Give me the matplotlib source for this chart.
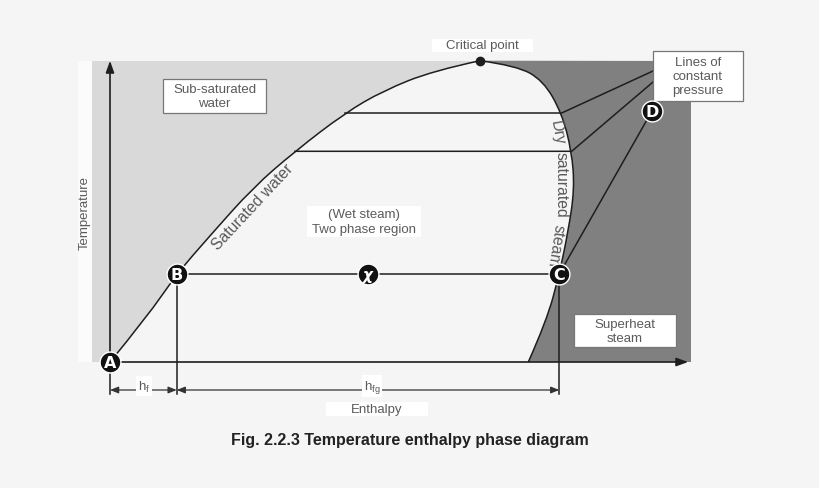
"""Temperature-enthalpy phase diagram (Fig. 2.2.3) redrawn with matplotlib."""

import matplotlib.pyplot as plt
from matplotlib.patches import PathPatch, Rectangle
from matplotlib.path import Path

plt.rcParams['font.family'] = ['Liberation Sans', 'DejaVu Sans']
plt.rcParams['mathtext.fontset'] = 'custom'
plt.rcParams['mathtext.rm'] = 'Liberation Sans'

# dome (x = enthalpy, y = temperature, picture units, y grows downward)
liquid_h = [110, 146.7, 176.7, 210, 253.3, 295, 345, 383.3, 433.3, 480]
liquid_t = [363, 318.3, 275, 236.7, 188.3, 152.3, 114, 91.7, 71.7, 61.7]
vapour_h = [480, 516.7, 543.3, 561.7, 571.7, 574.5, 568.3, 559.3, 546.7, 528.3]
vapour_t = [61.7, 66.7, 81.7, 114, 152.3, 190, 231.7, 275, 321.7, 363]

# plot frame
h_min, h_max = 110, 691
t_min, t_top = 363, 62
shade_left = 92

# constant pressure lines: start on liquid side, end on vapour side, then run to the label box
isobar_t = [114, 152.3]
isobar_h0 = [345, 295]
isobar_h1 = [561.7, 571.7]
isobar_end_t = [72, 83]
box_left = 653

# states
state_names = ['A', 'B', 'C', 'D']
state_h = [110, 176.7, 559.3, 652]
state_t = [363, 275, 275, 112]
chi_h, chi_t = 368, 275
crit_h, crit_t = 480, 61.7

dim_t = 391

BG = '#f5f5f5'
LIGHT = '#d9d9d9'
DARK = '#808080'
INK = '#1e1e1e'
TXT = '#5a5a5a'


def smooth(hs, ts):
    """Quadratic Bezier segments through the midpoints of the read points."""
    verts = [(hs[0], ts[0])]
    codes = [Path.MOVETO]
    pts = list(zip(hs, ts))
    for i in range(1, len(pts) - 1):
        mid = ((pts[i][0] + pts[i + 1][0]) / 2, (pts[i][1] + pts[i + 1][1]) / 2)
        if i == len(pts) - 2:
            mid = pts[-1]
        verts += [pts[i], mid]
        codes += [Path.CURVE3, Path.CURVE3]
    return verts, codes


fig = plt.figure(figsize=(8.2, 4.89), dpi=100, facecolor=BG)
ax = fig.add_axes([0, 0, 1, 1])
ax.set_xlim(0, 820)
ax.set_ylim(489, 0)
ax.axis('off')
ax.set_facecolor(BG)

lv, lc = smooth(liquid_h, liquid_t)
vv, vc = smooth(vapour_h, vapour_t)

# shaded regions
light = [(shade_left, t_top), (shade_left, t_min)] + lv + [(crit_h, t_top), (shade_left, t_top)]
light_codes = [Path.MOVETO, Path.LINETO, Path.LINETO] + lc[1:] + [Path.LINETO, Path.CLOSEPOLY]
ax.add_patch(PathPatch(Path(light, light_codes), facecolor=LIGHT, lw=0, zorder=1))
dark = vv + [(h_max, t_min), (h_max, t_top), vv[0]]
dark_codes = vc + [Path.LINETO, Path.LINETO, Path.CLOSEPOLY]
ax.add_patch(PathPatch(Path(dark, dark_codes), facecolor=DARK, lw=0, zorder=1))

# white strip behind the temperature label
ax.add_patch(Rectangle((78, t_top), 14, t_min - t_top, facecolor='#fbfbfb', lw=0, zorder=1))
ax.text(85, 213, 'Temperature', rotation=90, ha='center', va='center', fontsize=9.5,
        color=TXT, zorder=5)

# dome
ax.add_patch(PathPatch(Path(lv, lc), facecolor='none', edgecolor=INK, lw=1.1, zorder=3))
ax.add_patch(PathPatch(Path(vv, vc), facecolor='none', edgecolor=INK, lw=1.1, zorder=3))

# isobars
for t, h0, h1, te in zip(isobar_t, isobar_h0, isobar_h1, isobar_end_t):
    ax.plot([h0, h1, box_left], [t, t, te], color=INK, lw=1.1, zorder=3)
ax.plot([state_h[1], state_h[2], state_h[3]], [state_t[1], state_t[2], state_t[3]],
        color=INK, lw=1.1, zorder=3)

# verticals from B and C down to the dimension line
for h, t in zip(state_h[1:3], state_t[1:3]):
    ax.plot([h, h], [t, dim_t + 4], color=INK, lw=1.1, zorder=3)
ax.plot([state_h[0], state_h[0]], [375, dim_t + 4], color=INK, lw=1.1, zorder=3)

# axes with arrows
ax.annotate('', xy=(h_min, t_top - 3), xytext=(h_min, t_min),
            arrowprops=dict(arrowstyle='-|>,head_length=0.7,head_width=0.25', color=INK, lw=1.2),
            zorder=4)
ax.annotate('', xy=(h_max, t_min), xytext=(h_min, t_min),
            arrowprops=dict(arrowstyle='-|>,head_length=0.7,head_width=0.25', color=INK, lw=1.2),
            zorder=4)

# dimension arrows
dims = [(state_h[0], state_h[1]), (state_h[1], state_h[2])]
for a, b in dims:
    ax.annotate('', xy=(a, dim_t), xytext=(b, dim_t),
                arrowprops=dict(arrowstyle='<|-|>,head_length=0.5,head_width=0.2',
                                color='#333333', lw=0.9, shrinkA=0, shrinkB=0), zorder=3)
label_box = dict(facecolor='white', edgecolor='none', pad=1.5)
ax.text(144, 387, r'$\mathregular{h_{f}}$', ha='center', va='center', fontsize=9.5,
        color=TXT, bbox=label_box, zorder=5)
ax.text(372, 387, r'$\mathregular{h_{fg}}$', ha='center', va='center', fontsize=9.5,
        color=TXT, bbox=label_box, zorder=5)

# critical point
ax.plot([crit_h], [crit_t], 'o', color=INK, ms=6, zorder=6)

# state markers
marker_font = ['Liberation Sans Narrow', 'DejaVu Sans']
for name, h, t in zip(state_names, state_h, state_t):
    ax.plot([h], [t], 'o', ms=15, mfc='#111111', mec='white', mew=1, zorder=6)
    ax.text(h, t + 0.5, name, ha='center', va='center', fontsize=11.5, fontweight='bold',
            color='white', family=marker_font, zorder=7)
ax.plot([chi_h], [chi_t], 'o', ms=15, mfc='#111111', mec='white', mew=1, zorder=6)
ax.text(chi_h, chi_t + 0.5, 'χ', ha='center', va='center', fontsize=11, fontweight='bold',
        style='italic', color='white', family='DejaVu Sans', zorder=7)


# boxed labels
def boxed(x0, y0, x1, y1, text, line_h, border=True):
    ax.add_patch(Rectangle((x0, y0), x1 - x0, y1 - y0, facecolor='white',
                           edgecolor='#777777' if border else 'none', lw=0.9, zorder=5))
    ax.text((x0 + x1) / 2, (y0 + y1) / 2, text, ha='center', va='center', fontsize=9.5,
            color=TXT, linespacing=line_h, zorder=6)


boxed(432, 40, 533, 53, 'Critical point', 1.0, border=False)
boxed(163, 80, 266, 114, 'Sub-saturated\nwater', 1.3)
boxed(307, 206.7, 421, 237.7, '(Wet steam)\nTwo phase region', 1.3, border=False)
boxed(574, 315, 676, 348.3, 'Superheat\nsteam', 1.25)
boxed(653, 52, 743, 102, 'Lines of\nconstant\npressure', 1.25)
boxed(326, 403, 428, 417, 'Enthalpy', 1.0, border=False)

# curve labels
curve_font = 11.3
ax.text(253, 207, 'Saturated water', rotation=47, ha='center', va='center', fontsize=curve_font,
        color=TXT, rotation_mode='anchor', zorder=5)
ax.text(557, 133, 'Dry', rotation=-80, ha='center', va='center', fontsize=curve_font,
        color=TXT, rotation_mode='anchor', zorder=5)
ax.text(561.5, 185, 'saturated', rotation=-90, ha='center', va='center', fontsize=curve_font,
        color=TXT, rotation_mode='anchor', zorder=5)
ax.text(555.5, 246, 'steam', rotation=-99, ha='center', va='center', fontsize=curve_font,
        color=TXT, rotation_mode='anchor', zorder=5)

# caption
ax.text(410, 440, 'Fig. 2.2.3 Temperature enthalpy phase diagram', ha='center', va='center',
        fontsize=11.5, fontweight='bold', color='#222222')

fig.savefig('out.png', dpi=100, facecolor=BG)
